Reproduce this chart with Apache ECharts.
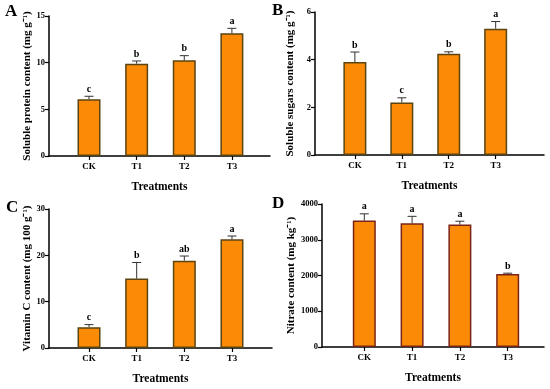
<!DOCTYPE html>
<html><head><meta charset="utf-8">
<script src="https://cdn.jsdelivr.net/npm/echarts@6/dist/echarts.min.js"></script>
<style>html,body{margin:0;padding:0;background:#fff}#c{width:550px;height:389px}</style>
</head><body><div id="c"></div>
<script>
const categories = ['CK', 'T1', 'T2', 'T3'];
const proteinMean = [6.07, 9.89, 10.25, 13.15];
const proteinErr = [0.33, 0.29, 0.5, 0.53];
const proteinLetters = ['c', 'b', 'b', 'a'];
const sugarsMean = [3.9, 2.2, 4.25, 5.3];
const sugarsErr = [0.42, 0.2, 0.08, 0.3];
const sugarsLetters = ['b', 'c', 'b', 'a'];
const vitCMean = [4.5, 15.0, 18.85, 23.45];
const vitCErr = [0.55, 3.45, 1.0, 0.72];
const vitCLetters = ['c', 'b', 'ab', 'a'];
const nitrateMean = [3535, 3460, 3425, 2045];
const nitrateErr = [190, 195, 93, 20];
const nitrateLetters = ['a', 'a', 'a', 'b'];

const FONT = '"Liberation Serif", "Times New Roman", serif';
const panels = [
  {tag:'A', mean:proteinMean, err:proteinErr, letters:proteinLetters, yName:'Soluble protein content (mg g\u207B\u00B9)', ymax:15, yint:5,
   grid:{left:49, top:16, width:221, height:140}, xmin:-0.84, xmax:3.8, nameGap:16, tagPos:[5,3]},
  {tag:'B', mean:sugarsMean, err:sugarsErr, letters:sugarsLetters, yName:'Soluble sugars content (mg g\u207B\u00B9)', ymax:6, yint:2,
   grid:{left:315, top:12, width:229, height:143}, xmin:-0.85, xmax:4.03, nameGap:19, tagPos:[272,2]},
  {tag:'C', mean:vitCMean, err:vitCErr, letters:vitCLetters, yName:'Vitamin C content (mg 100 g\u207B\u00B9)', ymax:30, yint:10,
   grid:{left:49, top:209, width:223, height:139}, xmin:-0.84, xmax:3.84, nameGap:15, tagPos:[6,199]},
  {tag:'D', mean:nitrateMean, err:nitrateErr, letters:nitrateLetters, yName:'Nitrate content (mg kg\u207B\u00B9)', ymax:4000, yint:1000,
   grid:{left:322, top:204, width:222, height:143}, xmin:-0.885, xmax:3.76, nameGap:22, tagPos:[272,195]}
];

const grids = [], xAxes = [], yAxes = [], series = [], graphics = [];
panels.forEach((p, i) => {
  grids.push(Object.assign({containLabel:false}, p.grid));
  xAxes.push({
    type:'value', gridIndex:i, min:p.xmin, max:p.xmax,
    name:'Treatments', nameLocation:'middle', nameGap:25,
    nameTextStyle:{fontFamily:FONT, fontWeight:'bold', fontSize:11.5, color:'#000'},
    axisLine:{show:true, onZero:false, lineStyle:{color:'#000', width:1.5}},
    axisTick:{show:true, customValues:[0,1,2,3], length:4, inside:false, lineStyle:{color:'#000', width:1.2}},
    axisLabel:{customValues:[0,1,2,3], formatter:v => categories[Math.round(v)], fontFamily:FONT, fontWeight:'bold', fontSize:9, color:'#000', margin:6},
    splitLine:{show:false}
  });
  yAxes.push({
    type:'value', gridIndex:i, min:0, max:p.ymax, interval:p.yint,
    name:p.yName, nameLocation:'middle', nameGap:p.nameGap, nameRotate:90,
    nameTextStyle:{fontFamily:FONT, fontWeight:'bold', fontSize:11, color:'#000'},
    axisLine:{show:true, onZero:false, lineStyle:{color:'#000', width:1.5}},
    axisTick:{show:true, length:4, lineStyle:{color:'#000', width:1.2}},
    axisLabel:{formatter:v => String(v), fontFamily:FONT, fontWeight:'bold', fontSize:8.5, color:'#000', margin:4},
    splitLine:{show:false}
  });
  series.push({
    type:'bar', xAxisIndex:i, yAxisIndex:i, barWidth:23,
    data:p.mean.map((v, k) => [k, v]),
    itemStyle:{color:'#FB8A06', borderColor: i===3 ? '#7a2418' : '#5a4410', borderWidth:1.5},
    z:2
  });
  series.push({
    type:'custom', xAxisIndex:i, yAxisIndex:i, z:5,
    data:p.mean.map((v, k) => [k, v, p.err[k], k]),
    renderItem:(params, api) => {
      const x = api.value(0), top = api.value(1), e = api.value(2), k = api.value(3);
      const p0 = api.coord([x, top]);
      const p1 = api.coord([x, top + e]);
      return {type:'group', children:[
        {type:'line', shape:{x1:p0[0], y1:p0[1], x2:p1[0], y2:p1[1]}, style:{stroke:'#333', lineWidth:1}},
        {type:'line', shape:{x1:p1[0]-4.5, y1:p1[1], x2:p1[0]+4.5, y2:p1[1]}, style:{stroke:'#333', lineWidth:1}},
        {type:'text', x:p1[0], y:p1[1]-2, style:{text:p.letters[k], textAlign:'center', textVerticalAlign:'bottom', font:'bold 10px ' + FONT, fill:'#000'}}
      ]};
    }
  });
  graphics.push({type:'text', left:p.tagPos[0], top:p.tagPos[1], style:{text:p.tag, font:'bold 17px ' + FONT, fill:'#000'}});
});

const chart = echarts.init(document.getElementById('c'), null, {renderer:'canvas'});
chart.setOption({
  animation:false,
  backgroundColor:'#fff',
  grid:grids, xAxis:xAxes, yAxis:yAxes, series:series, graphic:graphics
});
</script></body></html>
